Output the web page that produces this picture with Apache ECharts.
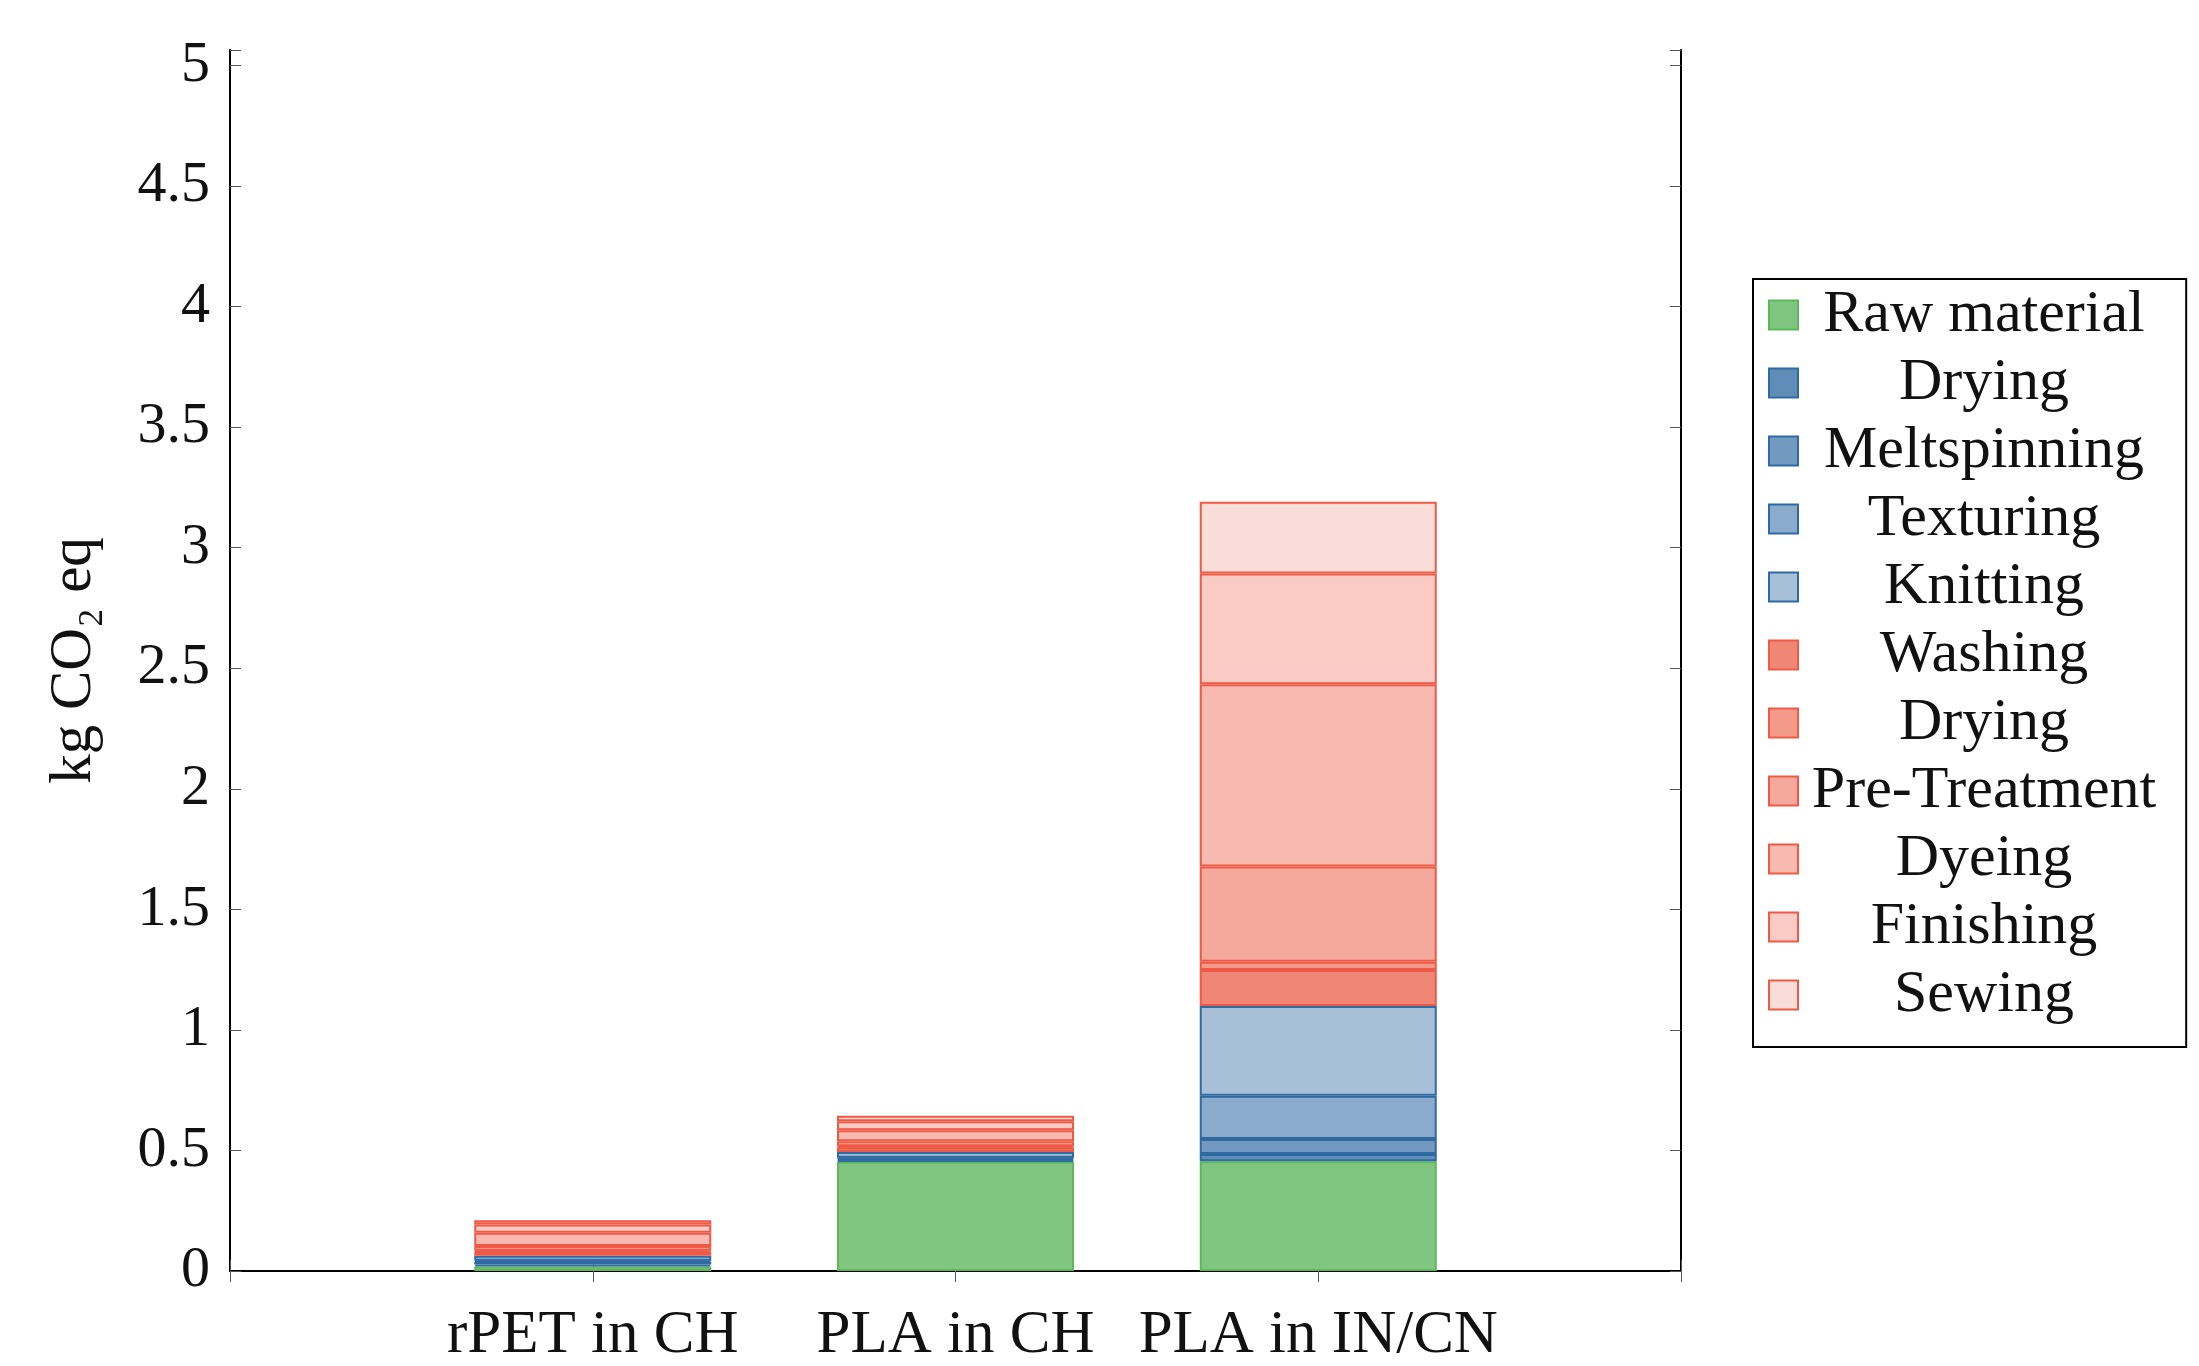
<!DOCTYPE html>
<html>
<head>
<meta charset="utf-8">
<script src="https://cdn.jsdelivr.net/npm/echarts@6/dist/echarts.min.js"></script>
<style>
html, body { margin: 0; padding: 0; background: #fff; }
#chart { width: 2199px; height: 1366px; }
</style>
</head>
<body>
<div id="chart"></div>
<script>
// categories (x axis)
const categories = ["rPET in CH", "PLA in CH", "PLA in IN/CN"];

// kg CO2 eq per stage, one value per category
const rawMaterial   = [0.019, 0.453, 0.455];
const dryingYarn    = [0.008, 0.006, 0.030];
const meltspinning  = [0.010, 0.007, 0.062];
const texturing     = [0.006, 0.004, 0.180];
const knitting      = [0.020, 0.024, 0.372];
const washing       = [0.016, 0.018, 0.149];
const dryingTextile = [0.005, 0.005, 0.035];
const preTreatment  = [0.020, 0.021, 0.395];
const dyeing        = [0.055, 0.046, 0.756];
const finishing     = [0.034, 0.037, 0.459];
const sewing        = [0.018, 0.023, 0.297];

const yTicks = [0, 0.5, 1, 1.5, 2, 2.5, 3, 3.5, 4, 4.5, 5];
const yMax = 5.064; // frame sits a little above the last tick

const FONT = "'Liberation Serif', 'DejaVu Serif', serif";
const GREEN = "#5cb85c", BLUE = "#2f6aa3", RED = "#ee5a45";

const stages = [
	{ key: "raw", label: "Raw material", data: rawMaterial, fill: "#80c680", line: GREEN },
	{ key: "dryY", label: "Drying", data: dryingYarn, fill: "#5f8db8", line: BLUE },
	{ key: "melt", label: "Meltspinning", data: meltspinning, fill: "#7399c0", line: BLUE },
	{ key: "tex", label: "Texturing", data: texturing, fill: "#8aabcb", line: BLUE },
	{ key: "knit", label: "Knitting", data: knitting, fill: "#a7bfd7", line: BLUE },
	{ key: "wash", label: "Washing", data: washing, fill: "#f08675", line: RED },
	{ key: "dryT", label: "Drying", data: dryingTextile, fill: "#f39a8b", line: RED },
	{ key: "pre", label: "Pre-Treatment", data: preTreatment, fill: "#f5a99d", line: RED },
	{ key: "dye", label: "Dyeing", data: dyeing, fill: "#f7b9b0", line: RED },
	{ key: "fin", label: "Finishing", data: finishing, fill: "#f9cbc4", line: RED },
	{ key: "sew", label: "Sewing", data: sewing, fill: "#f9ddd8", line: RED }
];

// empty slots at both ends so the three bars sit at 1/4, 2/4, 3/4 of the width
const axisCats = [""].concat(categories, [""]);
const pad = arr => [null].concat(arr, [null]);
const labelOf = {};
stages.forEach(s => { labelOf[s.key] = s.label; });
const tickLabel = v => (yTicks.some(t => Math.abs(t - v) < 1e-6) ? String(v) : "");

const chart = echarts.init(document.getElementById("chart"));

const option = {
	animation: false,
	textStyle: { fontFamily: FONT },
	grid: { left: 230, top: 50, width: 1451, height: 1222, containLabel: false },
	legend: {
		orient: "vertical",
		left: 1753,
		top: 279,
		icon: "rect",
		itemWidth: 29,
		itemHeight: 29,
		itemGap: 8,
		padding: [6, 30, 22, 15],
		borderColor: "#000",
		borderWidth: 2,
		data: stages.map(s => s.key),
		formatter: name => "{c|" + labelOf[name] + "}",
		textStyle: {
			rich: {
				c: { width: 362, align: "center", fontSize: 60, fontFamily: FONT, color: "#111" }
			}
		}
	},
	xAxis: [
		{
			type: "category",
			data: axisCats,
			boundaryGap: false,
			axisLine: { lineStyle: { color: "#000", width: 2 } },
			axisTick: { inside: true, length: 11, interval: 0, lineStyle: { color: "#555" } },
			axisLabel: { interval: 0, fontSize: 61, margin: 34, color: "#111", fontFamily: FONT },
			splitLine: { show: false }
		},
		{
			type: "category",
			data: axisCats,
			position: "top",
			boundaryGap: false,
			axisLine: { lineStyle: { color: "#000", width: 2 } },
			axisTick: { inside: true, length: 11, interval: 0, lineStyle: { color: "#555" } },
			axisLabel: { show: false },
			splitLine: { show: false }
		}
	],
	yAxis: [
		{
			type: "value",
			min: yTicks[0],
			max: yMax,
			interval: 0.5,
			name: "kg CO\u2082 eq",
			nameLocation: "middle",
			nameGap: 126,
			nameTextStyle: { fontSize: 59, color: "#111", fontFamily: FONT },
			axisLine: { show: true, lineStyle: { color: "#000", width: 2 } },
			axisTick: { show: true, inside: true, length: 11, lineStyle: { color: "#555" } },
			axisLabel: { fontSize: 58, margin: 20, color: "#111", fontFamily: FONT, formatter: tickLabel },
			splitLine: { show: false }
		},
		{
			type: "value",
			min: yTicks[0],
			max: yMax,
			interval: 0.5,
			position: "right",
			axisLine: { show: true, lineStyle: { color: "#000", width: 2 } },
			axisTick: { show: true, inside: true, length: 11, lineStyle: { color: "#555" } },
			axisLabel: { show: false },
			splitLine: { show: false }
		}
	],
	series: stages.map(s => ({
		name: s.key,
		type: "bar",
		stack: "total",
		barWidth: 237,
		data: pad(s.data),
		itemStyle: { color: s.fill, borderColor: s.line, borderWidth: 2 }
	}))
};

chart.setOption(option);
window.onresize = chart.resize;
</script>
</body>
</html>
